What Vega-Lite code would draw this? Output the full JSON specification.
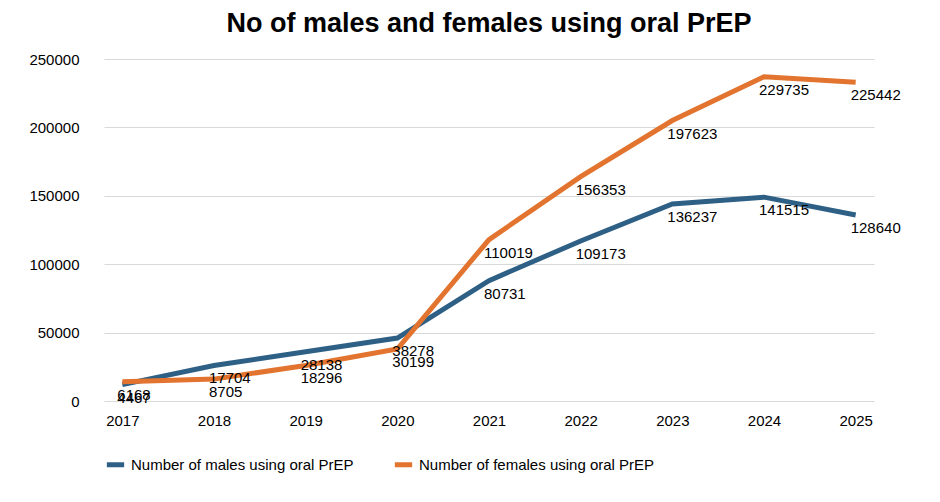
{
  "$schema": "https://vega.github.io/schema/vega-lite/v6.json",
  "width": 770,
  "height": 342,
  "padding": {"left": 28, "top": 10, "right": 50, "bottom": 10},
  "background": "white",
  "config": {
    "font": "Liberation Sans",
    "view": {"stroke": null},
    "axis": {"labelFontSize": 15, "labelColor": "#000", "domain": false, "ticks": false, "title": null},
    "title": {"fontSize": 27, "fontWeight": "bold", "color": "#000", "font": "Liberation Sans"}
  },
  "title": {"text": "No of males and females using oral PrEP", "anchor": "middle", "offset": 14},
  "data": {
    "values": [
      {"year": "2017", "series": "Number of males using oral PrEP", "pos": 12000, "label": 4467},
      {"year": "2018", "series": "Number of males using oral PrEP", "pos": 26000, "label": 17704},
      {"year": "2019", "series": "Number of males using oral PrEP", "pos": 36000, "label": 28138},
      {"year": "2020", "series": "Number of males using oral PrEP", "pos": 46000, "label": 38278},
      {"year": "2021", "series": "Number of males using oral PrEP", "pos": 88000, "label": 80731},
      {"year": "2022", "series": "Number of males using oral PrEP", "pos": 117000, "label": 109173},
      {"year": "2023", "series": "Number of males using oral PrEP", "pos": 144000, "label": 136237},
      {"year": "2024", "series": "Number of males using oral PrEP", "pos": 149000, "label": 141515},
      {"year": "2025", "series": "Number of males using oral PrEP", "pos": 136000, "label": 128640},
      {"year": "2017", "series": "Number of females using oral PrEP", "pos": 14000, "label": 6168},
      {"year": "2018", "series": "Number of females using oral PrEP", "pos": 16000, "label": 8705},
      {"year": "2019", "series": "Number of females using oral PrEP", "pos": 26000, "label": 18296},
      {"year": "2020", "series": "Number of females using oral PrEP", "pos": 38000, "label": 30199},
      {"year": "2021", "series": "Number of females using oral PrEP", "pos": 118000, "label": 110019},
      {"year": "2022", "series": "Number of females using oral PrEP", "pos": 164000, "label": 156353},
      {"year": "2023", "series": "Number of females using oral PrEP", "pos": 205000, "label": 197623},
      {"year": "2024", "series": "Number of females using oral PrEP", "pos": 237000, "label": 229735},
      {"year": "2025", "series": "Number of females using oral PrEP", "pos": 233000, "label": 225442}
    ]
  },
  "encoding": {
    "x": {"field": "year", "type": "ordinal", "scale": {"type": "point", "padding": 0.2}, "axis": {"labelAngle": 0, "grid": false, "labelPadding": 12}},
    "y": {"field": "pos", "type": "quantitative", "scale": {"domain": [0, 250000]}, "axis": {"tickCount": 5, "format": "d", "gridColor": "#d9d9d9", "labelPadding": 25}}
  },
  "layer": [
    {
      "mark": {"type": "line", "strokeWidth": 5},
      "encoding": {
        "color": {
          "field": "series", "type": "nominal",
          "scale": {"domain": ["Number of males using oral PrEP", "Number of females using oral PrEP"], "range": ["#2e6085", "#e2742f"]},
          "legend": {"orient": "bottom", "title": null, "labelFontSize": 15, "labelColor": "#000", "symbolType": "stroke", "symbolStrokeWidth": 5, "symbolSize": 300, "columnPadding": 30, "labelLimit": 400, "offset": 25}
        }
      }
    },
    {
      "mark": {"type": "text", "align": "left", "baseline": "top", "dx": -5, "dy": 6, "fontSize": 15, "color": "#000"},
      "encoding": {"text": {"field": "label", "type": "quantitative", "format": "d"}}
    }
  ]
}
